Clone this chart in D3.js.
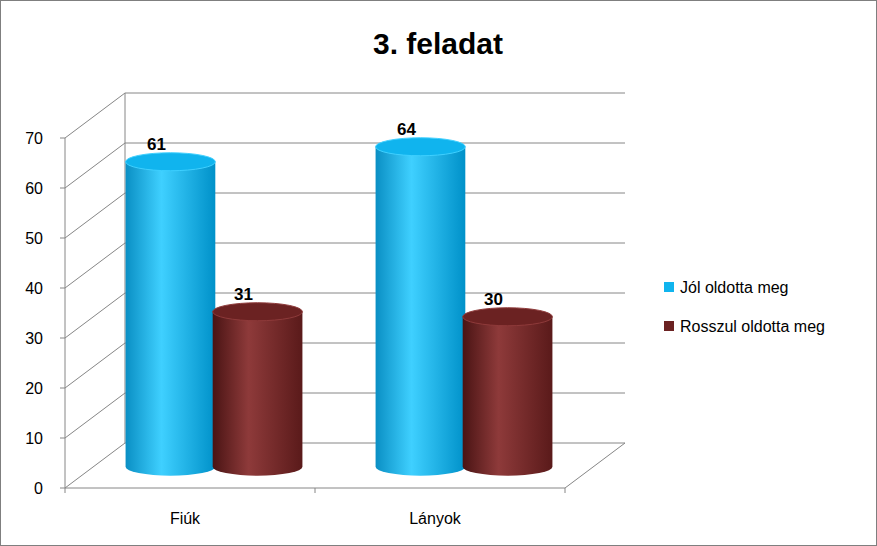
<!DOCTYPE html>
<html><head><meta charset="utf-8">
<script src="https://cdn.jsdelivr.net/npm/d3@7"></script>
<style>body{margin:0;background:#fff}svg{display:block}text{font-family:"Liberation Sans",Arial,sans-serif}</style>
</head><body><svg id="c" width="877" height="546"></svg>
<script>
var categories = ["Fiúk", "Lányok"];
var seriesNames = ["Jól oldotta meg", "Rosszul oldotta meg"];
var jol = [61, 64];
var rossz = [30 + 1, 30];
var yTicks = [0, 10, 20, 30, 40, 50, 60, 70];
var colors = [["#0a8fc4", "#3fd0ff", "#0091c9"], ["#4a1414", "#8e3a3a", "#5a1a1a"]];
var topColors = ["#10b4ee", "#6b2222"];

var svg = d3.select("#c");
svg.append("rect").attr("x", 0.5).attr("y", 0.5).attr("width", 876).attr("height", 545)
  .attr("fill", "#fff").attr("stroke", "#7f7f7f");

svg.append("text").attr("x", 438).attr("y", 54).attr("text-anchor", "middle")
  .attr("font-size", 30).attr("font-weight", "bold").text("3. feladat");

var dx = 60, dy = -45;
var left = 65, right = 565;
var y = d3.scaleLinear().domain([0, 70]).range([488, 138]);
var x = d3.scaleBand().domain(categories).range([left, right]).paddingInner(0).paddingOuter(0);
var xs = d3.scaleBand().domain([0, 1]).range([0, x.bandwidth()]).paddingInner(-0.03).paddingOuter(0.42);

var g = svg.append("g");
// grid lines: side wall diagonal + back wall
yTicks.forEach(function(t) {
  var yy = y(t);
  g.append("path").attr("d", "M" + left + "," + yy + "L" + (left + dx) + "," + (yy + dy) + "L" + (right + dx) + "," + (yy + dy))
    .attr("fill", "none").attr("stroke", "#868686").attr("stroke-width", 1);
});
g.append("line").attr("x1", left + dx).attr("x2", left + dx).attr("y1", y(0) + dy).attr("y2", y(70) + dy + 0).attr("stroke", "#868686");
g.append("path").attr("d", "M" + right + "," + y(0) + "L" + (right + dx) + "," + (y(0) + dy)).attr("stroke", "#868686").attr("fill", "none");
// floor front edge + axis
g.append("line").attr("x1", left).attr("x2", right).attr("y1", y(0)).attr("y2", y(0)).attr("stroke", "#868686");
g.append("line").attr("x1", left).attr("x2", left).attr("y1", y(0)).attr("y2", y(70)).attr("stroke", "#868686");
yTicks.forEach(function(t) {
  g.append("line").attr("x1", left - 5).attr("x2", left).attr("y1", y(t)).attr("y2", y(t)).attr("stroke", "#868686");
  g.append("text").attr("x", left - 22).attr("y", y(t) + 6).attr("text-anchor", "end").attr("font-size", 16).text(t);
});
categories.forEach(function(c, i) {
  g.append("line").attr("x1", x(c)).attr("x2", x(c)).attr("y1", y(0)).attr("y2", y(0) + 5).attr("stroke", "#868686");
  g.append("text").attr("x", x(c) + x.bandwidth() / 2 - 5).attr("y", 524).attr("text-anchor", "middle").attr("font-size", 16).text(c);
});
g.append("line").attr("x1", right).attr("x2", right).attr("y1", y(0)).attr("y2", y(0) + 5).attr("stroke", "#868686");

var defs = svg.append("defs");
colors.forEach(function(cs, k) {
  var gr = defs.append("linearGradient").attr("id", "g" + k).attr("x1", 0).attr("x2", 1).attr("y1", 0).attr("y2", 0);
  gr.append("stop").attr("offset", "0%").attr("stop-color", cs[0]);
  gr.append("stop").attr("offset", "40%").attr("stop-color", cs[1]);
  gr.append("stop").attr("offset", "100%").attr("stop-color", cs[2]);
});

// cylinders sit at middle depth
var shift = dy / 2 * 0.5 - 10;
var data = [];
categories.forEach(function(c, i) {
  [jol[i], rossz[i]].forEach(function(v, k) { data.push({c: c, k: k, v: v}); });
});
data.forEach(function(d) {
  var w = xs.bandwidth();
  var cx = x(d.c) + xs(d.k) + w / 2 + 24 + (d.k ? 0 : 0);
  var rx = w / 2, ry = 9;
  var yb = y(0) + shift, yt = y(d.v) + shift;
  var cg = g.append("g");
  cg.append("path").attr("d", "M" + (cx - rx) + "," + yt + "L" + (cx - rx) + "," + yb +
      "A" + rx + "," + ry + " 0 0 0 " + (cx + rx) + "," + yb + "L" + (cx + rx) + "," + yt + "Z")
    .attr("fill", "url(#g" + d.k + ")");
  cg.append("ellipse").attr("cx", cx).attr("cy", yt).attr("rx", rx).attr("ry", ry)
    .attr("fill", topColors[d.k]).attr("stroke", colors[d.k][1]).attr("stroke-width", 1);
  cg.append("text").attr("x", cx - 14).attr("y", yt - 12).attr("text-anchor", "middle")
    .attr("font-size", 17).attr("font-weight", "bold").text(d.v);
});

var lg = svg.append("g");
seriesNames.forEach(function(s, k) {
  var yy = 287 + k * 39;
  lg.append("rect").attr("x", 664).attr("y", yy - 5).attr("width", 10).attr("height", 10).attr("fill", k ? "#6b2222" : "#10b4ee");
  lg.append("text").attr("x", 680).attr("y", yy + 6).attr("font-size", 16).text(s);
});
</script></body></html>
